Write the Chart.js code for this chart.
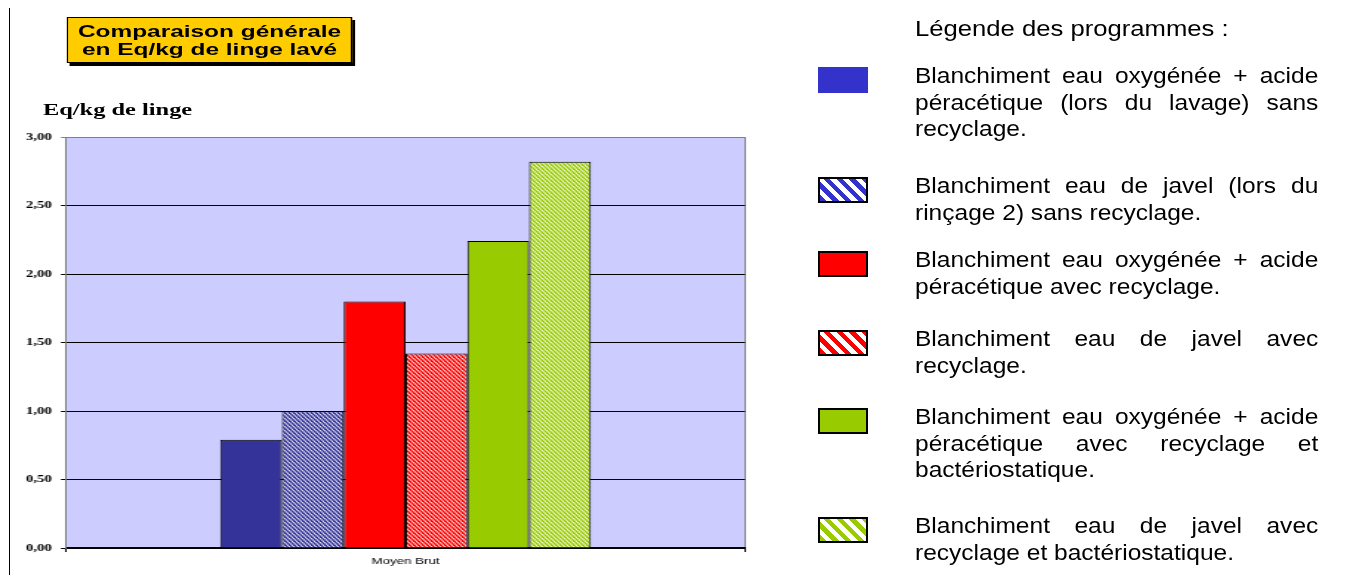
<!DOCTYPE html>
<html>
<head>
<meta charset="utf-8">
<script src="https://cdn.jsdelivr.net/npm/chart.js@4.4.0/dist/chart.umd.min.js"></script>
<style>
    html, body { margin: 0; padding: 0; background: #fff; width: 1351px; height: 575px; overflow: hidden; }
    body { font-family: "Liberation Sans", Arial, sans-serif; color: #000; }
    #frame-line { position: absolute; left: 9px; top: 8px; width: 1px; height: 567px; background: #000; }
    /* le graphique d'origine est étiré horizontalement */
    #left { position: absolute; left: 0; top: 0; width: 513px; height: 575px; transform: scaleX(1.48); transform-origin: 0 0; }
    #chart-box { position: absolute; left: 0; top: 0; width: 513px; height: 575px; }
    #titre { position: absolute; left: 45.3px; top: 17px; width: 192.6px; height: 46px; box-sizing: border-box;
             background: #FFCC00; border: 1px solid #000; box-shadow: 2px 3px 0 #000;
             font-weight: bold; font-size: 16.5px; line-height: 18px; text-align: center; padding-top: 4px; }
    #axe-titre { position: absolute; left: 29px; top: 102px; font-family: "Liberation Serif", "Times New Roman", serif;
                 font-weight: bold; font-size: 16.5px; line-height: 16.5px; white-space: nowrap; }
    #legende { position: absolute; left: 0; top: 0; width: 1351px; height: 575px; }
    .leg-titre, .leg-texte { position: absolute; left: 915px; width: 370px; font-size: 22.5px; line-height: 26.5px;
                             transform: scaleX(1.09); transform-origin: 0 0; }
    .leg-titre { transform: scaleX(1.14); }
    .leg-texte { text-align: justify; }
    .swatch { position: absolute; left: 818px; width: 50px; height: 26px; box-sizing: border-box; border: 2px solid #000; }
</style>
</head>
<body>
<div id="frame-line"></div>
<div id="left">
    <div id="chart-box"><canvas id="chart"></canvas></div>
    <div id="titre">Comparaison générale<br>en Eq/kg de linge lavé</div>
    <div id="axe-titre">Eq/kg de linge</div>
</div>
<div id="legende"></div>

<script>
// Données
const categories = ['Moyen Brut'];
const programmes = [
    'Blanchiment eau oxygénée + acide péracétique (lors du lavage) sans recyclage.',
    'Blanchiment eau de javel (lors du rinçage 2) sans recyclage.',
    'Blanchiment eau oxygénée + acide péracétique avec recyclage.',
    'Blanchiment eau de javel avec recyclage.',
    'Blanchiment eau oxygénée + acide péracétique avec recyclage et bactériostatique.',
    'Blanchiment eau de javel avec recyclage et bactériostatique.'
];
const valeurs = [0.79, 1.00, 1.80, 1.42, 2.24, 2.82];
const yMin = 0;
const yMax = 3;
const yStep = 0.5;

// Styles
const couleurs = ['#333399', '#333399', '#FF0000', '#FF0000', '#99CC00', '#99CC00'];
const legendeCouleurs = ['#3333CC', '#3333CC', '#FF0000', '#FF0000', '#99CC00', '#99CC00'];
const hachures = [false, true, false, true, false, true];
const legendeTops = [67, 177, 251, 330, 408, 517];

// motif hachuré (diagonales)
function hatch(color) {
    const c = document.createElement('canvas');
    c.width = 3;
    c.height = 4;
    const g = c.getContext('2d');
    g.fillStyle = '#fff';
    g.fillRect(0, 0, 3, 4);
    g.strokeStyle = color;
    g.lineWidth = 1.6;
    [-3, 0, 3].forEach(dx => {
        g.beginPath();
        g.moveTo(dx - 3, -4);
        g.lineTo(dx + 6, 8);
        g.stroke();
    });
    return g.createPattern(c, 'repeat');
}

// fond de la zone de traçage
const plotBg = {
    id: 'plotBg',
    beforeDraw(chart) {
        const { ctx, chartArea: a } = chart;
        ctx.save();
        ctx.fillStyle = '#CCCCFF';
        ctx.fillRect(a.left, a.top, a.right - a.left, a.bottom - a.top);
        ctx.strokeStyle = '#808080';
        ctx.lineWidth = 1;
        ctx.beginPath();
        ctx.moveTo(Math.round(a.right) + 0.5, a.top);
        ctx.lineTo(Math.round(a.right) + 0.5, a.bottom);
        ctx.stroke();
        ctx.restore();
    }
};

const datasets = programmes.map((label, i) => ({
    label: label,
    data: [valeurs[i]],
    backgroundColor: hachures[i] ? hatch(couleurs[i]) : couleurs[i],
    borderColor: '#000',
    borderWidth: 1
}));

new Chart(document.getElementById('chart'), {
    type: 'bar',
    data: { labels: categories, datasets: datasets },
    options: {
        responsive: true,
        maintainAspectRatio: false,
        animation: false,
        layout: { padding: { left: 6, right: 9.6, top: 137, bottom: 0 } },
        datasets: { bar: { categoryPercentage: 0.546, barPercentage: 1.0 } },
        plugins: {
            legend: { display: false },
            tooltip: { enabled: false }
        },
        scales: {
            x: {
                afterFit: (scale) => { scale.height = 27; },
                grid: { display: true, drawOnChartArea: false, offset: true, tickLength: 4, color: '#000' },
                border: { display: true, color: '#000', width: 2 },
                ticks: { color: '#000', padding: 4, font: { family: 'Liberation Sans', size: 9 } }
            },
            y: {
                min: yMin,
                max: yMax,
                afterFit: (scale) => { scale.width = 38.6; },
                grid: {
                    color: (ctx) => (ctx.tick && ctx.tick.value === yMax ? '#808080' : '#000'),
                    tickLength: 3.4
                },
                border: { display: true, color: '#808080', width: 1 },
                ticks: {
                    stepSize: yStep,
                    padding: 6.1,
                    color: '#000',
                    font: { family: 'Liberation Serif', size: 10, weight: 'bold' },
                    callback: (v) => v.toFixed(2).replace('.', ',')
                }
            }
        }
    },
    plugins: [plotBg]
});

// Légende des programmes
const legende = document.getElementById('legende');
const tete = document.createElement('div');
tete.className = 'leg-titre';
tete.style.top = '16px';
tete.textContent = 'Légende des programmes :';
legende.appendChild(tete);

programmes.forEach((label, i) => {
    const sw = document.createElement('div');
    sw.className = 'swatch';
    sw.style.top = legendeTops[i] + 'px';
    if (hachures[i]) {
        sw.style.background = `repeating-linear-gradient(45deg, ${legendeCouleurs[i]} 0 4.5px, #fff 4.5px 9px)`;
    } else {
        sw.style.background = legendeCouleurs[i];
    }
    if (i === 0) sw.style.border = 'none';
    legende.appendChild(sw);

    const t = document.createElement('div');
    t.className = 'leg-texte';
    t.style.top = (legendeTops[i] - 4) + 'px';
    t.textContent = label;
    legende.appendChild(t);
});
</script>
</body>
</html>
